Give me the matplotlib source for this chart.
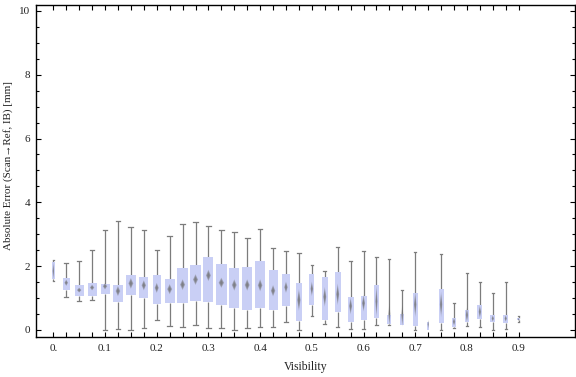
import matplotlib
matplotlib.use("Agg")
import matplotlib.pyplot as plt
from matplotlib.patches import Rectangle, Polygon

plt.rcParams['font.family'] = ['Liberation Serif', 'DejaVu Serif']

# visibility bins (box positions)
visibility = [0.0, 0.025, 0.05, 0.075, 0.1, 0.125, 0.15, 0.175, 0.2, 0.225,
              0.25, 0.275, 0.3, 0.325, 0.35, 0.375, 0.4, 0.425, 0.45, 0.475,
              0.5, 0.525, 0.55, 0.575, 0.6, 0.625, 0.65, 0.675, 0.7, 0.725,
              0.75, 0.775, 0.8, 0.825, 0.85, 0.875, 0.9]

# whisker ends, quartiles, mean and its confidence half-width [mm]
lo = [1.55, 1.02, 0.90, 0.93, 0.00, 0.03, 0.00, 0.05, 0.30, 0.12,
      0.08, 0.15, 0.05, 0.05, 0.00, 0.05, 0.08, 0.08, 0.24, 0.00,
      0.43, 0.18, 0.08, 0.03, 0.03, 0.15, 0.15, 0.15, 0.00, 0.00,
      0.00, 0.05, 0.12, 0.08, 0.00, 0.02, 0.24]
q1 = [1.60, 1.25, 1.08, 1.08, 1.14, 0.88, 1.10, 1.01, 0.82, 0.86,
      0.85, 0.91, 0.88, 0.79, 0.70, 0.64, 0.70, 0.64, 0.74, 0.29,
      0.79, 0.32, 0.55, 0.26, 0.32, 0.39, 0.19, 0.16, 0.13, 0.00,
      0.22, 0.10, 0.26, 0.33, 0.26, 0.23, 0.30]
q3 = [2.12, 1.63, 1.41, 1.47, 1.44, 1.41, 1.72, 1.66, 1.72, 1.60,
      1.94, 2.04, 2.29, 2.07, 1.94, 1.97, 2.16, 1.88, 1.76, 1.46,
      1.76, 1.66, 1.82, 1.03, 1.07, 1.41, 0.47, 0.50, 1.16, 0.24,
      1.29, 0.38, 0.63, 0.78, 0.47, 0.47, 0.37]
hi = [2.20, 2.11, 2.15, 2.50, 3.14, 3.41, 3.22, 3.12, 2.50, 2.94,
      3.33, 3.38, 3.25, 3.14, 3.06, 2.87, 3.15, 2.56, 2.47, 2.42,
      2.03, 1.84, 2.59, 2.15, 2.47, 2.30, 2.22, 1.24, 2.44, 0.24,
      2.37, 0.84, 1.78, 1.50, 1.15, 1.50, 0.44]
mean = [1.85, 1.48, 1.25, 1.33, 1.37, 1.22, 1.46, 1.40, 1.32, 1.28,
        1.42, 1.58, 1.71, 1.48, 1.41, 1.41, 1.40, 1.23, 1.34, 0.94,
        1.29, 1.04, 1.12, 0.75, 0.84, 0.90, 0.50, 0.47, 0.80, 0.18,
        0.80, 0.26, 0.47, 0.57, 0.36, 0.36, 0.33]
ci = [0.28, 0.10, 0.08, 0.09, 0.10, 0.16, 0.17, 0.16, 0.16, 0.16,
      0.17, 0.17, 0.18, 0.16, 0.18, 0.18, 0.19, 0.18, 0.18, 0.34,
      0.23, 0.31, 0.34, 0.26, 0.26, 0.50, 0.38, 0.36, 0.40, 0.14,
      0.40, 0.13, 0.23, 0.20, 0.10, 0.10, 0.05]
# relative sample weight (drives box width)
weight = [0.25, 0.66, 0.82, 0.82, 0.82, 0.85, 0.91, 0.82, 0.75, 0.91,
          0.94, 0.94, 0.91, 1.00, 0.91, 0.91, 0.85, 0.82, 0.64, 0.61,
          0.48, 0.57, 0.55, 0.55, 0.55, 0.39, 0.36, 0.36, 0.45, 0.18,
          0.45, 0.43, 0.43, 0.45, 0.43, 0.43, 0.25]

xticks = [0.0, 0.1, 0.2, 0.3, 0.4, 0.5, 0.6, 0.7, 0.8, 0.9]
xticklabels = ["0.", "0.1", "0.2", "0.3", "0.4", "0.5", "0.6", "0.7", "0.8", "0.9"]

fig = plt.figure(figsize=(5.76, 3.77), dpi=100)
ax = fig.add_axes([36 / 576, 1 - 337 / 377, 539 / 576, 332.5 / 377])

full_w = 0.0213
box_col = '#c9cff5'
wcol = '#7c7c7c'

for i, x in enumerate(visibility):
    w = full_w * weight[i]
    cap = w * 0.5
    # whiskers
    ax.plot([x, x], [lo[i], q1[i]], color=wcol, lw=0.9, zorder=1, solid_capstyle='butt')
    ax.plot([x, x], [q3[i], hi[i]], color=wcol, lw=0.9, zorder=1, solid_capstyle='butt')
    if hi[i] > q3[i] + 0.01:
        ax.plot([x - cap / 2, x + cap / 2], [hi[i], hi[i]], color=wcol, lw=0.9, zorder=1)
    if q1[i] > lo[i] + 0.01:
        ax.plot([x - cap / 2, x + cap / 2], [lo[i], lo[i]], color=wcol, lw=0.9, zorder=1)
    # box
    ax.add_patch(Rectangle((x - w / 2, q1[i]), w, q3[i] - q1[i],
                           facecolor=box_col, edgecolor='none', zorder=2))
    # mean confidence diamond, darker toward the centre
    dw = w * 0.25
    for s in [1.0, 0.8, 0.6, 0.4]:
        ax.add_patch(Polygon([(x - dw * s, mean[i]), (x, mean[i] + ci[i] * s),
                              (x + dw * s, mean[i]), (x, mean[i] - ci[i] * s)],
                             closed=True, facecolor='#6e6e6e', edgecolor='none',
                             alpha=0.35, zorder=3))

ax.set_xlim(-0.0335, 1.009)
ax.set_ylim(-0.22, 10.2)

ax.set_xticks(xticks)
ax.set_xticklabels(xticklabels)
ax.set_xticks(visibility, minor=True)
ax.set_yticks([0, 2, 4, 6, 8, 10])
ax.set_yticks([k * 0.5 for k in range(21)], minor=True)

ax.tick_params(which='both', direction='in', top=True, right=True,
               labelsize=8, colors='black', labelcolor='#222222', width=0.8)
ax.tick_params(axis='x', which='both', length=3.3, pad=5)
ax.tick_params(axis='y', which='major', length=3.6, pad=4)
ax.tick_params(axis='y', which='minor', length=2.0)

for sp in ax.spines.values():
    sp.set_linewidth(1.0)

ax.set_xlabel("Visibility", fontsize=8.5, color='#222222', labelpad=6)
ax.set_ylabel("Absolute Error (Scan\u2192Ref, IB) [mm]", fontsize=8, color='#222222')
ax.yaxis.set_label_coords(-0.043, 0.515)

fig.savefig("out.png", dpi=100)
